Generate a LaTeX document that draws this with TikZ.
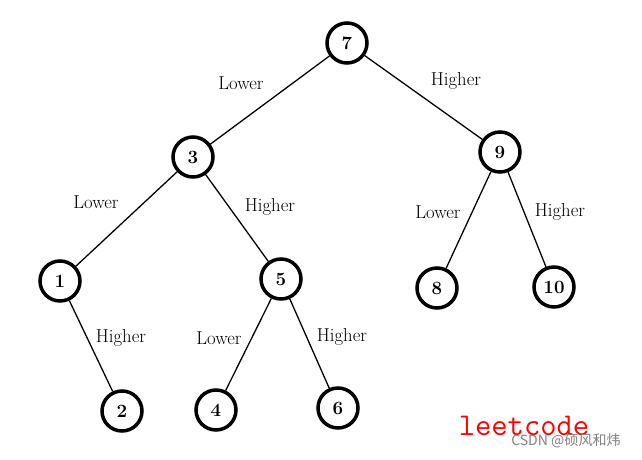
\documentclass[tikz,border=0pt]{standalone}
\usepackage{fontspec}
\newfontfamily\cjk{Noto Sans CJK SC}
\begin{document}
\begin{tikzpicture}[x=0.03cm,y=-0.03cm,
  vert/.style={circle,draw,line width=3pt,minimum size=1.2cm,inner sep=0pt,font=\bfseries\fontsize{16}{16}\selectfont},
  branch/.style={line width=1.1pt},
  tag/.style={font=\fontsize{16}{16}\selectfont}]
  \useasboundingbox (0,0) rectangle (642,460);

  % vertices
  \node[vert] (n7) at (347,43) {7};
  \node[vert] (n3) at (193,157) {3};
  \node[vert] (n9) at (500,152) {9};
  \node[vert] (n1) at (60,281) {1};
  \node[vert] (n5) at (281,279) {5};
  \node[vert] (n8) at (437,288) {8};
  \node[vert] (n10) at (554,287) {10};
  \node[vert] (n2) at (122,411) {2};
  \node[vert] (n4) at (216,410) {4};
  \node[vert] (n6) at (338,408) {6};

  % branches
  \draw[branch] (n7) -- (n3);
  \draw[branch] (n7) -- (n9);
  \draw[branch] (n3) -- (n1);
  \draw[branch] (n3) -- (n5);
  \draw[branch] (n9) -- (n8);
  \draw[branch] (n9) -- (n10);
  \draw[branch] (n1) -- (n2);
  \draw[branch] (n5) -- (n4);
  \draw[branch] (n5) -- (n6);

  % lower and higher
  \node[tag] (t73) at (241,83) {Lower};
  \node[tag] (t79) at (456,81) {Higher};
  \node[tag] (t31) at (96,202) {Lower};
  \node[tag] (t35) at (270,207) {Higher};
  \node[tag] (t98) at (438,212) {Lower};
  \node[tag] (t910) at (560,212) {Higher};
  \node[tag] (t12) at (121,338) {Higher};
  \node[tag] (t54) at (219,338) {Lower};
  \node[tag] (t56) at (342,337) {Higher};

  % watermark
  \node[text=red,font=\ttfamily\fontsize{27}{27}\selectfont] (wm) at (524,426) {leetcode};
  \node[text=gray,font=\cjk\fontsize{12}{12}\selectfont] (csdn) at (566,441) {CSDN @硕风和炜};
\end{tikzpicture}
\end{document}
